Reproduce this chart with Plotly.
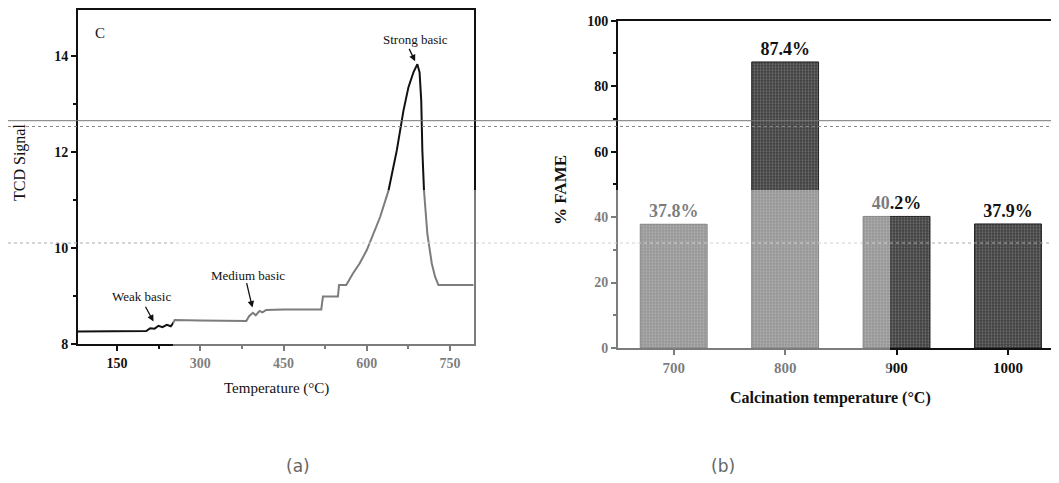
import plotly.graph_objects as go

# ---- data: panel (a) TPD curve ----
temperature = [80, 150, 203, 210, 218, 225, 232, 240, 247, 251, 254, 300, 383, 388, 395, 400,
               407, 412, 419, 450, 518, 521, 548, 550, 563, 575, 587, 600, 612, 624, 639, 654,
               666, 675, 684, 691, 695, 698, 700, 703, 709, 717, 723, 729, 760, 792]
tcd_signal = [8.26, 8.26, 8.27, 8.33, 8.32, 8.38, 8.35, 8.40, 8.37, 8.43, 8.50, 8.49, 8.48, 8.58,
              8.65, 8.60, 8.69, 8.66, 8.71, 8.72, 8.72, 8.99, 8.99, 9.23, 9.23, 9.47, 9.68, 9.96,
              10.30, 10.65, 11.20, 12.04, 12.87, 13.36, 13.67, 13.84, 13.67, 13.08, 12.04, 11.20,
              10.30, 9.68, 9.40, 9.23, 9.23, 9.23]

# ---- data: panel (b) FAME bars ----
calc_temps = ["700", "800", "900", "1000"]
fame = [37.8, 87.4, 40.2, 37.9]
fame_labels = ["37.8%", "87.4%", "40.2%", "37.9%"]

SERIF = "Liberation Serif"
W, H = 1059, 483
OX, OY = 8, 8  # page offset of the figure inside the browser window


def px(X):
    return (X - OX) / W


def py(Y):
    return 1 - (Y - OY) / H


fig = go.Figure()

fig.add_trace(go.Scatter(x=temperature, y=tcd_signal, mode="lines",
                         line=dict(color="#111", width=2), xaxis="x", yaxis="y",
                         showlegend=False, hoverinfo="skip"))

xpos = list(range(len(calc_temps)))
fig.add_trace(go.Bar(x=xpos, y=fame, width=0.6, xaxis="x2", yaxis="y2",
                     marker=dict(color="#404040", line=dict(color="#222", width=1),
                                 pattern=dict(shape=".", fgcolor="#aaaaaa", size=3, solidity=0.35)),
                     text=fame_labels, textposition="outside", cliponaxis=False,
                     textfont=dict(family=SERIF, size=18, color="#111", weight="bold"),
                     showlegend=False, hoverinfo="skip"))

axis_common = dict(showgrid=False, zeroline=False, showline=True, linecolor="#111", linewidth=2,
                   ticks="outside", ticklen=5, tickwidth=1.5, tickcolor="#111", mirror=True,
                   automargin=False)

fig.update_layout(
    width=W, height=H, margin=dict(l=0, r=0, t=0, b=0, autoexpand=False),
    paper_bgcolor="white", plot_bgcolor="white",
    xaxis=dict(domain=[px(78), px(474)], range=[80, 793], tickvals=[150, 300, 450, 600, 750],
               minor=dict(dtick=75, tick0=0, ticks="outside", ticklen=3, tickcolor="#111"),
               tickfont=dict(family=SERIF, size=14, color="#111", weight="bold"), anchor="y",
               **axis_common),
    yaxis=dict(domain=[py(344), py(10)], range=[8, 14.97], tickvals=[8, 10, 12, 14],
               minor=dict(dtick=1, ticks="outside", ticklen=3, tickcolor="#111"),
               tickfont=dict(family=SERIF, size=14, color="#111", weight="bold"), anchor="x",
               **axis_common),
    xaxis2=dict(domain=[px(618), px(1057)], range=[-0.5, 3.44], tickvals=xpos, ticktext=calc_temps,
                tickfont=dict(family=SERIF, size=15, color="#111", weight="bold"), anchor="y2",
                **axis_common),
    yaxis2=dict(domain=[py(348), py(20.7)], range=[0, 100], tickvals=[0, 20, 40, 60, 80, 100],
                minor=dict(dtick=10, ticks="outside", ticklen=3, tickcolor="#111"),
                tickfont=dict(family=SERIF, size=14, color="#111", weight="bold"), anchor="x2",
                **axis_common),
)


def pa(text, x, y, size, color="#111", bold=False, angle=0, family=SERIF):
    return dict(text=text, x=px(x), y=py(y), xref="paper", yref="paper", textangle=angle,
                xanchor="center", yanchor="middle", showarrow=False,
                font=dict(family=family, size=size, color=color, weight="bold" if bold else "normal"))


ann = [
    pa("TCD Signal", 20, 163, 16, angle=-90),
    pa("Temperature (°C)", 276, 388, 15),
    pa("% FAME", 560, 190, 17, bold=True, angle=-90),
    pa("Calcination temperature (°C)", 830, 398, 16, bold=True),
    pa("(a)", 298, 466, 17, color="#666", family="DejaVu Sans"),
    pa("(b)", 723, 466, 17, color="#666", family="DejaVu Sans"),
]


def da(text, x, y, size=13):
    return dict(text=text, x=x, y=y, xref="x", yref="y", showarrow=False,
                xanchor="center", yanchor="middle", font=dict(family=SERIF, size=size, color="#111"))


ann += [da("C", 120, 14.5, 15), da("Strong basic", 687, 14.36), da("Weak basic", 194, 8.99),
        da("Medium basic", 386, 9.42)]
for (x0, y0, x1, y1) in [(675, 14.19, 687, 13.9), (200, 8.81, 216, 8.47), (383, 9.30, 394, 8.76)]:
    ann.append(dict(text="", x=x1, y=y1, ax=x0, ay=y0, xref="x", yref="y", axref="x", ayref="y",
                    showarrow=True, arrowhead=2, arrowsize=1, arrowwidth=1.3, arrowcolor="#111"))
fig.update_layout(annotations=ann)

shapes = []
# scan artefact lines
shapes.append(dict(type="line", xref="paper", yref="paper", x0=0, x1=1, y0=py(120.7), y1=py(120.7),
                   line=dict(color="#777", width=1), layer="above"))
shapes.append(dict(type="line", xref="paper", yref="paper", x0=0, x1=1, y0=py(126.5), y1=py(126.5),
                   line=dict(color="#888", width=1, dash="dot"), layer="above"))
shapes.append(dict(type="line", xref="paper", yref="paper", x0=0, x1=1, y0=py(243), y1=py(243),
                   line=dict(color="#aaa", width=1, dash="dot"), layer="above"))
# faded scan region
shapes.append(dict(type="rect", xref="paper", yref="paper", x0=px(173), x1=px(890), y0=0, y1=py(190),
                   fillcolor="rgba(255,255,255,0.45)", line=dict(width=0), layer="above"))
fig.update_layout(shapes=shapes)

fig.write_html("out.html")
